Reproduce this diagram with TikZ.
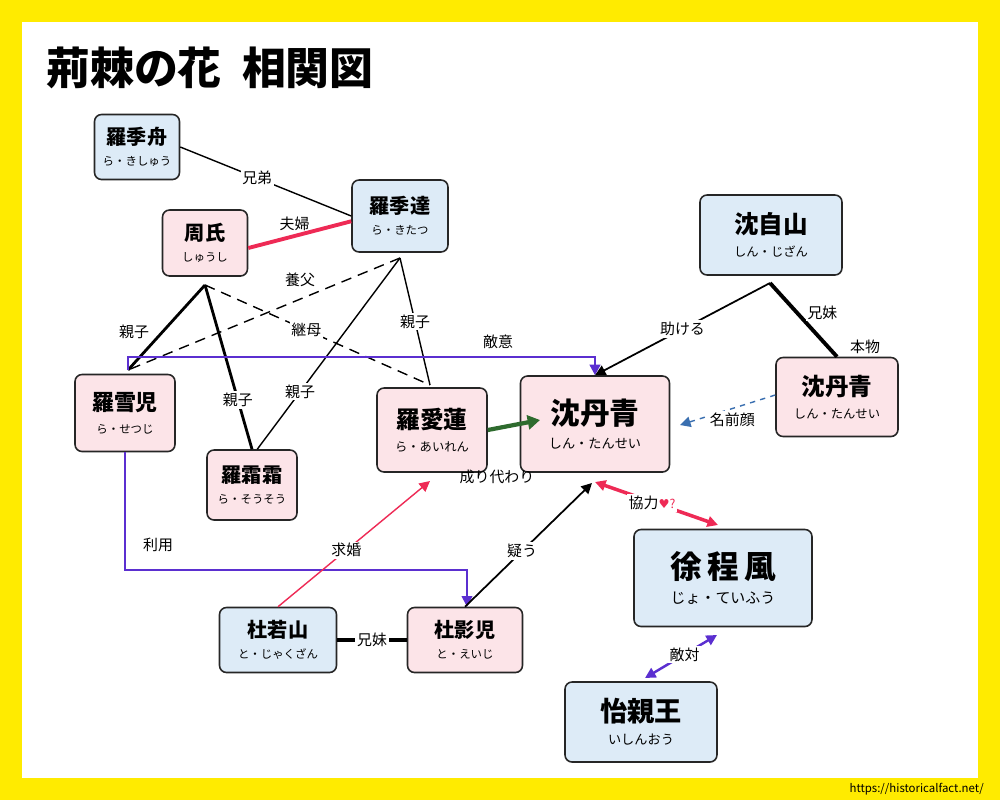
\documentclass[tikz,border=0pt]{standalone}
\usepackage{fontspec}
\setmainfont{Noto Sans CJK JP}
\newfontfamily\djv{DejaVu Sans}
\usetikzlibrary{arrows.meta}
\definecolor{pk}{HTML}{FCE4E8}
\definecolor{bl}{HTML}{DDEBF7}
\definecolor{yl}{HTML}{FFEB00}
\definecolor{rd}{HTML}{EE2A55}
\definecolor{pu}{HTML}{5B2FD0}
\definecolor{gr}{HTML}{2E6B2E}
\definecolor{db}{HTML}{3A6FB0}
\begin{document}
\begin{tikzpicture}[x=0.02cm,y=-0.02cm,
 box/.style={draw=black!85,line width=0.9pt,rounded corners=4pt,align=center,inner sep=0pt},
 P/.style={box,fill=pk},B/.style={box,fill=bl},
 lb/.style={font=\fontsize{8.5}{10}\selectfont,fill=white,inner sep=1pt,text=black},
 lbn/.style={font=\fontsize{8.5}{10}\selectfont,inner sep=1pt,text=black},
 ar/.style={-{Triangle[length=6pt,width=6pt]}},
 dar/.style={{Triangle[length=6pt,width=6pt]}-{Triangle[length=6pt,width=6pt]}}]
\newcommand{\nm}[2]{{\fontsize{11.5}{13}\selectfont\bfseries #1}\\[0pt]{\fontsize{6.5}{8}\selectfont #2}}
\fill[yl] (0,0) rectangle (1000,800);
\fill[white] (22,22) rectangle (978,778);
\node[anchor=west,font=\fontsize{25}{28}\selectfont\bfseries] (title) at (40,68) {荊棘の花\ \ 相関図};
\node[anchor=east,font=\fontsize{6.5}{8}\selectfont] (url) at (990,789) {https://historicalfact.net/};
% nodes
\node[B,minimum width=1.7cm,minimum height=1.3cm] (jz) at (137,147) {\nm{羅季舟}{ら・きしゅう}};
\node[B,minimum width=1.92cm,minimum height=1.44cm] (jd) at (400,216) {\nm{羅季達}{ら・きたつ}};
\node[P,minimum width=1.7cm,minimum height=1.32cm] (zs) at (205,243) {\nm{周氏}{しゅうし}};
\node[B,minimum width=2.84cm,minimum height=1.6cm] (zsan) at (771,235) {{\fontsize{14}{16}\selectfont\bfseries 沈自山}\\[1pt]{\fontsize{7}{8}\selectfont しん・じざん}};
\node[P,minimum width=2cm,minimum height=1.54cm] (sj) at (125,413) {{\fontsize{12.5}{14}\selectfont\bfseries 羅雪児}\\[1pt]{\fontsize{6.5}{8}\selectfont ら・せつじ}};
\node[P,minimum width=1.8cm,minimum height=1.4cm] (ss) at (252,485) {\nm{羅霜霜}{ら・そうそう}};
\node[P,minimum width=2.2cm,minimum height=1.68cm] (al) at (432,430) {{\fontsize{13.5}{15}\selectfont\bfseries 羅愛蓮}\\[1pt]{\fontsize{7}{8}\selectfont ら・あいれん}};
\node[P,minimum width=2.98cm,minimum height=1.92cm] (st) at (595,424) {{\fontsize{17}{19}\selectfont\bfseries 沈丹青}\\[2pt]{\fontsize{7.5}{9}\selectfont しん・たんせい}};
\node[P,minimum width=2.44cm,minimum height=1.58cm] (st2) at (837,397) {{\fontsize{13.5}{15}\selectfont\bfseries 沈丹青}\\[1pt]{\fontsize{7}{8}\selectfont しん・たんせい}};
\node[B,minimum width=3.56cm,minimum height=1.94cm] (xc) at (723,578) {{\fontsize{18}{20}\selectfont\bfseries 徐\,程\,風}\\[2pt]{\fontsize{8.5}{10}\selectfont じょ・ていふう}};
\node[B,minimum width=3.04cm,minimum height=1.6cm] (yq) at (641,722) {{\fontsize{15.5}{17}\selectfont\bfseries 怡親王}\\[1pt]{\fontsize{7.5}{9}\selectfont いしんおう}};
\node[B,minimum width=2.34cm,minimum height=1.3cm] (rs) at (278,640) {\nm{杜若山}{と・じゃくざん}};
\node[P,minimum width=2.3cm,minimum height=1.3cm] (yj) at (465,640) {\nm{杜影児}{と・えいじ}};
% coordinates
\coordinate (zsb) at (205,285);
\coordinate (jdb) at (400,258);
\coordinate (sjt) at (128,370);
\coordinate (alt) at (430,385);
\coordinate (zsanb) at (770,283);
\coordinate (ge) at (540,420);
% edges
\draw[line width=0.8pt] (jz.east) -- (jd.west) node[lb,pos=0.45] {兄弟};
\draw[rd,line width=2.2pt] (zs.east) ++(0,5) -- ([yshift=-3pt]jd.west) node[lbn,pos=0.45,above=1pt] {夫婦};
\draw[line width=1.6pt] (zsb) -- (sjt) node[lbn,pos=0.55,left=6pt] {親子};
\draw[line width=1.6pt] (zsb) -- (ss.north) node[lb,pos=0.7] {親子};
\draw[line width=0.8pt,dash pattern=on 6pt off 4pt] (zsb) -- (alt) node[lb,pos=0.45] {継母};
\draw[line width=0.8pt,dash pattern=on 6pt off 4pt] (jdb) -- (sjt);
\node[lbn] (yf) at (300,280) {養父};
\draw[line width=0.8pt] (jdb) -- ([xshift=3pt]ss.north) node[lb,pos=0.7] {親子};
\draw[line width=0.8pt] (jdb) -- (alt) node[lb,pos=0.5] {親子};
\draw[pu,line width=1.4pt,ar] (sjt) |- (357,357) -| (st.north);
\node[lbn] (tk) at (498,342) {敵意};
\draw[pu,line width=1pt,ar] (sj.south) |- (467,570) -- (yj.north -| 467,0);
\node[lbn] (ry) at (158,545) {利用};
\draw[gr,line width=2.4pt,-{Triangle[length=7pt,width=8pt]}] (al.east) -- (ge);
\node[lbn] (nk) at (497,477) {成り代わり};
\draw[rd,line width=0.8pt,ar] (rs.north) -- (430,481) node[lb,pos=0.45] {求婚};
\draw[line width=1pt,ar] (yj.north) -- (592,483) node[lb,pos=0.45] {疑う};
\draw[line width=2pt] (rs.east) -- (yj.west) node[lb,pos=0.5] {兄妹};
\draw[line width=1pt,ar] (zsanb) -- (st.north) node[lb,pos=0.5] {助ける};
\draw[line width=2.2pt] (zsanb) -- (st2.north) node[lb,pos=0.4,right=4pt] {兄妹};
\node[lbn] (hm) at (865,347) {本物};
\draw[db,line width=0.8pt,dashed,ar] (st2.west) ++(0,-2) -- (680,425) node[lb,pos=0.45,below=1pt] {名前顔};
\draw[rd,line width=2pt,dar] (595,482) -- (718,525);
\node[lb] (ky) at (652,503) {協力{\color{rd}\djv\fontsize{7}{8}\selectfont ♥}{\color{rd}\fontsize{7}{8}\selectfont ?}};
\draw[pu,line width=1.4pt,dar] (717,635) -- (645,678) node[lb,pos=0.45] {敵対};
\end{tikzpicture}
\end{document}
